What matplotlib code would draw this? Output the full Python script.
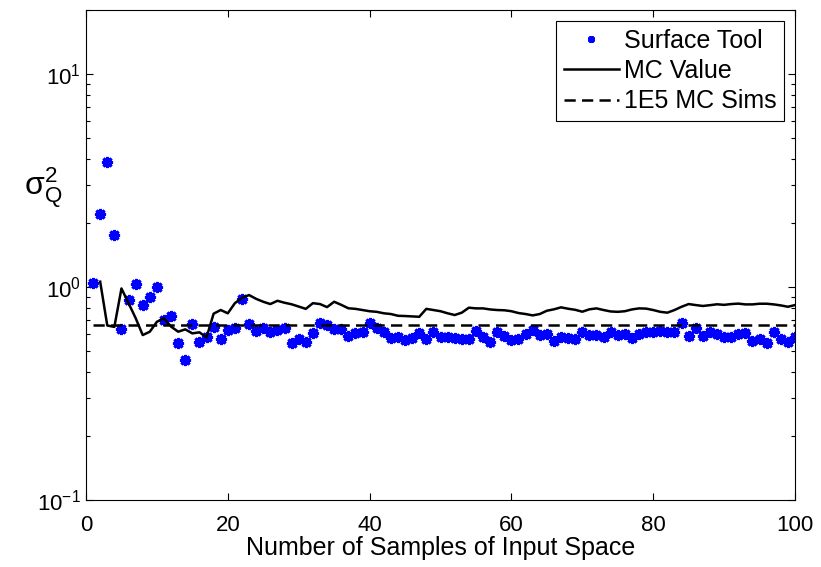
import numpy as np
import matplotlib
matplotlib.use("Agg")
import matplotlib.pyplot as plt

# Surface Tool estimate of sigma_Q^2 for 1..100 samples
surface_x = list(range(1, 101))
surface_vals = [
    1.05, 2.2, 3.85, 1.75, 0.635, 0.87, 1.03, 0.82, 0.895, 1.0,
    0.70, 0.73, 0.546, 0.454, 0.668, 0.553, 0.584, 0.651, 0.568, 0.628,
    0.644, 0.876, 0.668, 0.62, 0.64, 0.617, 0.628, 0.64, 0.544, 0.568,
    0.553, 0.606, 0.68, 0.66, 0.633, 0.633, 0.589, 0.61, 0.617, 0.68,
    0.64, 0.617, 0.574, 0.585, 0.564, 0.574, 0.606, 0.568, 0.617, 0.585,
    0.58, 0.574, 0.568, 0.568, 0.624, 0.58, 0.55, 0.613, 0.59, 0.564,
    0.568, 0.60, 0.628, 0.595, 0.60, 0.557, 0.585, 0.574, 0.568, 0.613,
    0.595, 0.595, 0.585, 0.613, 0.595, 0.60, 0.574, 0.60, 0.617, 0.617,
    0.624, 0.617, 0.617, 0.675, 0.589, 0.64, 0.589, 0.617, 0.60, 0.585,
    0.585, 0.60, 0.61, 0.56, 0.568, 0.545, 0.617, 0.568, 0.553, 0.585,
]

# running Monte Carlo value, starts at 2 samples
mc_x = list(range(2, 101))
mc_vals = [
    1.06, 0.66, 0.65, 0.985, 0.84, 0.715, 0.595, 0.617, 0.687,
    0.713, 0.652, 0.617, 0.633, 0.606, 0.613, 0.58, 0.75, 0.78, 0.753,
    0.84, 0.89, 0.917, 0.88, 0.853, 0.832, 0.862, 0.844, 0.83, 0.81,
    0.79, 0.84, 0.832, 0.805, 0.853, 0.825, 0.795, 0.79, 0.78, 0.77,
    0.765, 0.753, 0.747, 0.733, 0.731, 0.728, 0.725, 0.79, 0.78, 0.77,
    0.753, 0.739, 0.758, 0.80, 0.794, 0.794, 0.785, 0.78, 0.778, 0.77,
    0.755, 0.747, 0.736, 0.747, 0.774, 0.786, 0.803, 0.791, 0.782, 0.766,
    0.786, 0.794, 0.78, 0.768, 0.765, 0.77, 0.785, 0.794, 0.792, 0.78,
    0.765, 0.758, 0.78, 0.808, 0.832, 0.823, 0.815, 0.822, 0.83, 0.825,
    0.832, 0.836, 0.829, 0.829, 0.835, 0.835, 0.829, 0.82, 0.808, 0.823,
]

ref_x = [1, 100]
ref_val = 0.663  # 1E5 MC sims

plt.rcParams['font.family'] = ['Liberation Sans', 'DejaVu Sans']
fs_tick = 16
fs_lab = 18

fig = plt.figure(figsize=(8.21, 5.67), dpi=100)
ax = fig.add_axes([86 / 821, 1 - 500 / 567, (795 - 86) / 821, 490 / 567])

ax.plot(surface_x, surface_vals, linestyle='none', marker=(8, 2, 0),
        markersize=8, markeredgewidth=2.2, color=(0, 0, 1), label='Surface Tool')
ax.plot(mc_x, mc_vals, color='black', lw=1.8, label='MC Value')
ax.plot(ref_x, [ref_val, ref_val], color='black', lw=1.8,
        dashes=(4.5, 2.5), label='1E5 MC Sims')

ax.set_yscale('log')
ax.set_xlim(0, 100)
ax.set_ylim(0.1, 20)
ax.set_xticks([0, 20, 40, 60, 80, 100])
ax.tick_params(which='both', direction='in', top=True, right=True, labelsize=fs_tick)
ax.tick_params(which='major', length=5, width=0.8)
ax.tick_params(which='minor', length=3, width=0.8)
ax.tick_params(axis='x', pad=11)
for s in ax.spines.values():
    s.set_linewidth(0.8)

ax.set_xlabel('Number of Samples of Input Space', fontsize=fs_lab, labelpad=0)
fig.text(0.052, 0.668, r'$\mathregular{\sigma_Q^2}$', fontsize=23, ha='center', va='center')

leg = ax.legend(loc='upper right', fontsize=fs_lab, fancybox=False, framealpha=1,
                edgecolor='black', handlelength=2.2, handletextpad=0.2,
                labelspacing=0.25, borderaxespad=0.45, borderpad=0.3)
leg.get_frame().set_linewidth(0.8)
leg.legend_handles[0].set_markersize(5)
leg.legend_handles[0].set_markeredgewidth(1.8)

fig.savefig('out.png', dpi=100)
